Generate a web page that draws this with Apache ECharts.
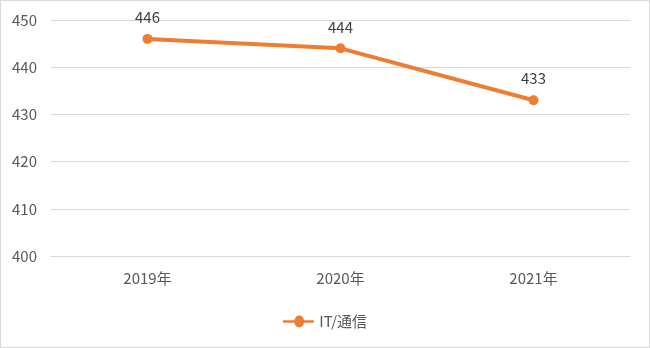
<!DOCTYPE html>
<html><head><meta charset="utf-8">
<script src="https://cdn.jsdelivr.net/npm/echarts@6/dist/echarts.min.js"></script>
<style>
html,body{margin:0;padding:0;background:#fff;}
#c{width:648px;height:346px;border:1px solid #d9d9d9;}
</style></head>
<body><div id="c"></div>
<script>
const categories = ['2019年','2020年','2021年'];
const seriesName = 'IT/通信';
const values = [446, 444, 433];
const yMin = 400, yMax = 450, yStep = 10;

const chart = echarts.init(document.getElementById('c'));
const font = '"Noto Sans CJK JP", "Noto Sans", sans-serif';
chart.setOption({
  animation: false,
  textStyle: {fontFamily: font},
  grid: {left: 50, right: 19, top: 19, bottom: 91},
  legend: {
    bottom: 13, left: 'center',
    itemWidth: 36, itemHeight: 12, itemGap: 4,
    textStyle: {color: '#595959', fontSize: 15, fontFamily: font, padding: [0,0,0,-2]},
    data: [{name: seriesName, icon: 'path://M0,5 L13.5,5 A5.5,5.5 0 0 1 24.5,5 L36,5 L36,8 L24.5,8 A5.5,5.5 0 0 1 13.5,8 L0,8 Z'}]
  },
  xAxis: {
    type: 'category', data: categories,
    axisLine: {show: true, lineStyle: {color: '#d9d9d9'}},
    axisTick: {show: false},
    axisLabel: {color: '#595959', fontSize: 15, margin: 15, fontFamily: font}
  },
  yAxis: {
    type: 'value', min: yMin, max: yMax, interval: yStep,
    axisLine: {show: false}, axisTick: {show: false},
    axisLabel: {color: '#595959', fontSize: 15, margin: 14, fontFamily: font},
    splitLine: {lineStyle: {color: '#d9d9d9', width: 1}}
  },
  series: [{
    name: seriesName, type: 'line', data: values,
    symbol: 'circle', symbolSize: 10,
    lineStyle: {color: '#ED7D31', width: 4},
    itemStyle: {color: '#ED7D31'},
    label: {show: true, position: 'top', distance: 9, color: '#404040', fontSize: 15, fontFamily: font}
  }]
});
</script></body></html>
